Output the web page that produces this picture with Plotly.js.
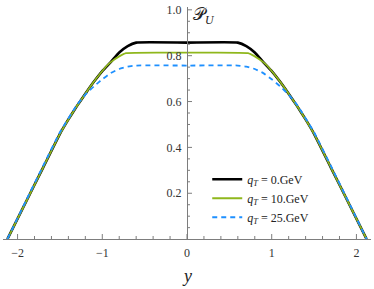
<!DOCTYPE html>
<html>
<head>
<meta charset="utf-8">
<script src="https://cdn.plot.ly/plotly-3.0.1.min.js"></script>
<style>html,body{margin:0;padding:0;background:#fff;}#chart{width:374px;height:289px;}</style>
</head>
<body>
<div id="chart"></div>
<script>
// Left half (x <= 0); curves are mirrored for x > 0
const xBlackHalf = [-2.12, -1.9, -1.7, -1.5, -1.4, -1.3, -1.2, -1.1, -1.0, -0.9, -0.8, -0.7, -0.6, 0];
const yBlackHalf = [0, 0.163, 0.311, 0.459, 0.522, 0.58, 0.634, 0.686, 0.733, 0.772, 0.814, 0.842, 0.857, 0.857];
const xGreenHalf = [-2.12, -1.9, -1.7, -1.5, -1.4, -1.3, -1.2, -1.1, -1.0, -0.95, -0.9, -0.8, -0.72, 0];
const yGreenHalf = [0, 0.163, 0.311, 0.459, 0.522, 0.58, 0.634, 0.686, 0.733, 0.755, 0.772, 0.797, 0.811, 0.813];
const xBlueHalf = [-2.12, -1.9, -1.7, -1.5, -1.3, -1.2, -1.1, -1.0, -0.9, -0.8, -0.7, -0.6, 0];
const yBlueHalf = [0, 0.168, 0.318, 0.466, 0.585, 0.630, 0.666, 0.697, 0.724, 0.742, 0.752, 0.757, 0.757];
const seriesNames = ['<i>q</i><sub><i>T</i></sub> = 0.GeV', '<i>q</i><sub><i>T</i></sub> = 10.GeV', '<i>q</i><sub><i>T</i></sub> = 25.GeV'];

function mirror(xs, ys) {
  const X = xs.slice(), Y = ys.slice();
  for (let i = xs.length - 2; i >= 0; i--) { X.push(-xs[i]); Y.push(ys[i]); }
  return [X, Y];
}
const [xb, yb] = mirror(xBlackHalf, yBlackHalf);
const [xg, yg] = mirror(xGreenHalf, yGreenHalf);
const [xl, yl] = mirror(xBlueHalf, yBlueHalf);

const serif = '"Liberation Serif", "DejaVu Serif", serif';
const axisGrey = '#7d7d7d';
const xRange = [-2.172, 2.172];
const yRange = [0.0005, 1.0123];

// Mathematica-style tick marks pointing into the plot (major/minor), built from the tick spacing
const shapes = [];
for (let k = -10; k <= 10; k++) {
  const t = Math.round(k * 0.2 * 100) / 100;
  const len = (k % 5 === 0) ? 5 : 3;
  shapes.push({type: 'line', xref: 'x', yref: 'y', x0: t, x1: t, ysizemode: 'pixel', yanchor: yRange[0], y0: 0, y1: len,
               line: {color: axisGrey, width: 1}, layer: 'above'});
}
for (let k = 1; k <= 20; k++) {
  const t = Math.round(k * 0.05 * 100) / 100;
  const len = (k % 4 === 0) ? 5 : 3;
  shapes.push({type: 'line', xref: 'x', yref: 'y', y0: t, y1: t, xsizemode: 'pixel', xanchor: 0, x0: 0, x1: len,
               line: {color: axisGrey, width: 1}, layer: 'above'});
}

const data = [
  {x: xb, y: yb, mode: 'lines', name: seriesNames[0], line: {color: '#000000', width: 2.6, shape: 'spline', smoothing: 0.4}},
  {x: xg, y: yg, mode: 'lines', name: seriesNames[1], line: {color: 'rgb(143,183,28)', width: 1.8, shape: 'spline', smoothing: 0.4}},
  {x: xl, y: yl, mode: 'lines', name: seriesNames[2], line: {color: 'rgb(30,144,255)', width: 1.8, dash: '5px,4px', shape: 'spline', smoothing: 0.4}}
];
const layout = {
  width: 374, height: 289,
  margin: {l: 3, r: 3, t: 7, b: 50},
  paper_bgcolor: '#fff', plot_bgcolor: '#fff',
  showlegend: true,
  legend: {x: 0.555, y: 0.32, xanchor: 'left', yanchor: 'top', bgcolor: 'rgba(0,0,0,0)',
           font: {family: serif, size: 12, color: '#222'}, tracegroupgap: 0, itemwidth: 30},
  xaxis: {range: xRange, showgrid: false, zeroline: false, showline: true, linecolor: axisGrey, linewidth: 1,
          tickmode: 'linear', tick0: 0, dtick: 1, ticks: '', ticklabelstandoff: 3,
          tickfont: {family: serif, size: 12, color: '#333'}},
  yaxis: {range: yRange, showgrid: false, zeroline: false, showline: true, linecolor: axisGrey, linewidth: 1,
          anchor: 'free', position: 0.5, side: 'left',
          tickmode: 'linear', tick0: 0, dtick: 0.2, tickformat: '.1f', ticks: '', ticklabelstandoff: 3,
          tickfont: {family: serif, size: 12, color: '#333'}},
  shapes: shapes,
  annotations: [
    {xref: 'x', yref: 'paper', x: 0, y: 1, xanchor: 'left', yanchor: 'top', xshift: 4, yshift: 4, showarrow: false,
     text: '\ud835\udcab<sub><i>U</i></sub>', font: {family: serif, size: 17, color: '#222'}},
    {xref: 'paper', yref: 'paper', x: 0.5, y: 0, xanchor: 'center', yanchor: 'middle', yshift: -37, showarrow: false,
     text: '<i>y</i>', font: {family: serif, size: 18, color: '#222'}}
  ]
};
Plotly.newPlot('chart', data, layout, {staticPlot: true, displayModeBar: false});
</script>
</body>
</html>
